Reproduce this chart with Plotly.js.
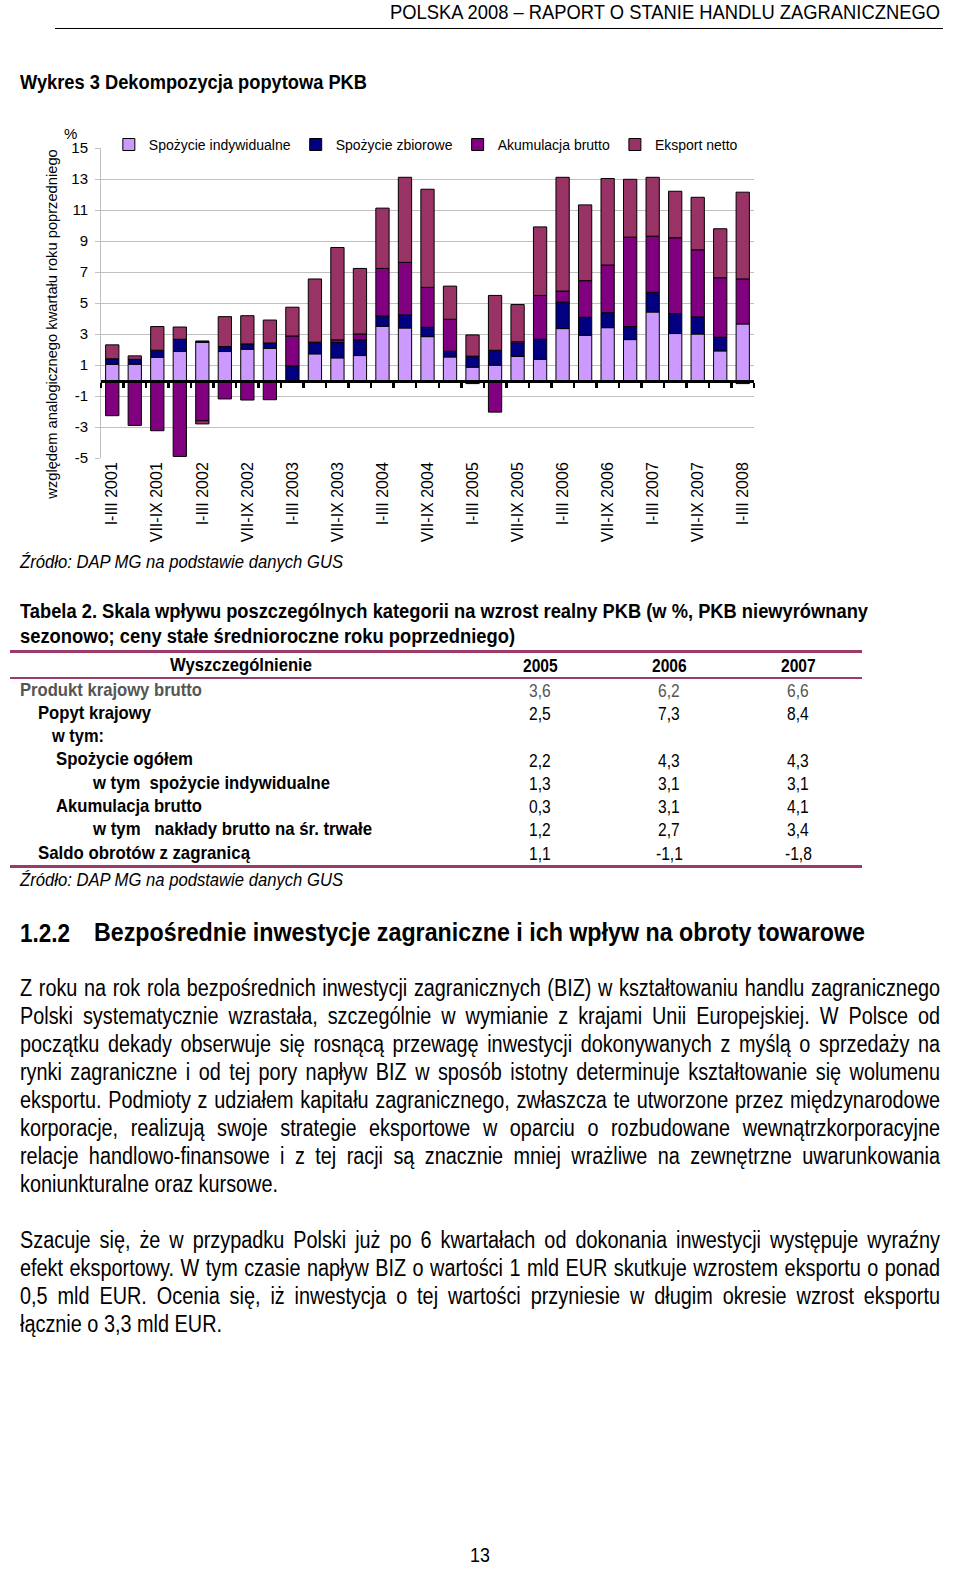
<!DOCTYPE html>
<html><head><meta charset="utf-8">
<script src="https://cdn.plot.ly/plotly-3.0.1.min.js"></script>
<style>
html,body{margin:0;padding:0;background:#fff;}
#page{position:relative;width:960px;height:1594px;overflow:hidden;font-family:"Liberation Sans",Arial,sans-serif;color:#000;}
.t{position:absolute;white-space:pre;line-height:1;transform-origin:0 0;}
.rule{position:absolute;}
#chart{position:absolute;left:0;top:100px;width:960px;height:460px;}
</style></head><body><div id="page"><div id="chart"></div></div>
<script>
// ---------------- DATA ----------------
const quarters = ["I-III 2001","IV-VI 2001","VII-IX 2001","X-XII 2001",
  "I-III 2002","IV-VI 2002","VII-IX 2002","X-XII 2002",
  "I-III 2003","IV-VI 2003","VII-IX 2003","X-XII 2003",
  "I-III 2004","IV-VI 2004","VII-IX 2004","X-XII 2004",
  "I-III 2005","IV-VI 2005","VII-IX 2005","X-XII 2005",
  "I-III 2006","IV-VI 2006","VII-IX 2006","X-XII 2006",
  "I-III 2007","IV-VI 2007","VII-IX 2007","X-XII 2007",
  "I-III 2008"];
const seriesNames = ["Spożycie indywidualne","Spożycie zbiorowe","Akumulacja brutto","Eksport netto"];
const spozycieIndywidualne = [1.05,1.05,1.5,1.87,2.47,1.87,2.02,2.08,0,1.72,1.46,1.61,3.5,3.39,2.83,1.52,0.86,0.99,1.55,1.37,3.35,2.92,3.41,2.64,4.42,3.03,3.0,1.91,3.65];
const spozycieZbiorowe = [0.35,0.32,0.45,0.79,0.08,0.32,0.34,0.34,0.94,0.75,0.99,1.01,0.66,0.84,0.6,0.37,0.71,0.96,0.85,1.29,1.71,1.16,0.97,0.84,1.27,1.28,1.1,0.88,-0.2];
const akumulacjaBrutto = [-2.27,-2.9,-3.24,-4.9,-2.6,-1.19,-1.26,-1.24,1.93,0,0.17,0.38,3.07,3.39,2.58,2.06,-0.2,-2.04,0.1,2.83,0.71,2.36,3.07,5.77,3.62,4.9,4.33,3.84,2.9];
const eksportNetto = [0.9,0.22,1.53,0.79,-0.2,1.93,1.82,1.48,1.86,4.08,5.96,4.23,3.89,5.49,6.33,2.14,1.37,3.54,2.4,4.42,7.34,4.89,5.58,3.73,3.8,3.0,3.39,3.16,5.6];
const yTickVals = [-5,-3,-1,1,3,5,7,9,11,13,15];
const yTickText = ["-5","-3","-1","1","3","5","7","9","11","13","15"];
const yTitle = "względem analogicznego kwartału roku poprzedniego";
const tableYears = ["2005","2006","2007"];
const tableRows = [
  ["Produkt krajowy brutto", "3,6","6,2","6,6"],
  ["Popyt krajowy", "2,5","7,3","8,4"],
  ["w tym:", "","",""],
  ["Spożycie ogółem", "2,2","4,3","4,3"],
  ["w tym  spożycie indywidualne", "1,3","3,1","3,1"],
  ["Akumulacja brutto", "0,3","3,1","4,1"],
  ["w tym   nakłady brutto na śr. trwałe", "1,2","2,7","3,4"],
  ["Saldo obrotów z zagranicą", "1,1","-1,1","-1,8"]
];
const para1 = [
 "Z roku na rok rola bezpośrednich inwestycji zagranicznych (BIZ) w kształtowaniu handlu zagranicznego",
 "Polski systematycznie wzrastała, szczególnie w wymianie z krajami Unii Europejskiej. W Polsce od",
 "początku dekady obserwuje się rosnącą przewagę inwestycji dokonywanych z myślą o sprzedaży na",
 "rynki zagraniczne i od tej pory napływ BIZ w sposób istotny determinuje kształtowanie się wolumenu",
 "eksportu. Podmioty z udziałem kapitału zagranicznego, zwłaszcza te utworzone przez międzynarodowe",
 "korporacje, realizują swoje strategie eksportowe w oparciu o rozbudowane wewnątrzkorporacyjne",
 "relacje handlowo-finansowe i z tej racji są znacznie mniej wrażliwe na zewnętrzne uwarunkowania",
 "koniunkturalne oraz kursowe."
];
const para2 = [
 "Szacuje się, że w przypadku Polski już po 6 kwartałach od dokonania inwestycji występuje wyraźny",
 "efekt eksportowy. W tym czasie napływ BIZ o wartości 1 mld EUR skutkuje wzrostem eksportu o ponad",
 "0,5 mld EUR. Ocenia się, iż inwestycja o tej wartości przyniesie w długim okresie wzrost eksportu",
 "łącznie o 3,3 mld EUR."
];

// ---------------- CHART ----------------
const colors = ["#CC99FF","#000080","#800080","#993366"];
const vals = [spozycieIndywidualne, spozycieZbiorowe, akumulacjaBrutto, eksportNetto];
const FONT = "Liberation Sans, Arial, sans-serif";
const traces = vals.map((v,i)=>({
  type:"bar", name:seriesNames[i], x:quarters, y:v,
  marker:{color:colors[i], line:{color:"#000", width:1}},
  hoverinfo:"skip"
}));
traces.push({type:"scatter", x:[], y:[], xaxis:"x2", showlegend:false, hoverinfo:"skip"});
const yMin=-5, yMax=15;
const boundaries = quarters.map((q,i)=>i-0.5).concat([quarters.length-0.5]);
const layout = {
  width:960, height:460,
  margin:{l:101, r:206, t:48, b:102},
  paper_bgcolor:"#fff", plot_bgcolor:"#fff",
  font:{family:FONT, size:14, color:"#000"},
  barmode:"relative", bargap:0.41,
  showlegend:true,
  legend:{orientation:"h", x:0.012, xanchor:"left", y:1.01, yanchor:"middle",
          bgcolor:"#fff", font:{family:FONT,size:14,color:"#000"}, traceorder:"normal"},
  xaxis:{type:"category", range:[-0.5, quarters.length-0.5],
         tickvals:quarters.filter((q,i)=>i%2===0), tickangle:-90,
         tickfont:{family:FONT,size:16,color:"#000"},
         showgrid:false, showline:false, ticks:"", zeroline:false, fixedrange:true},
  xaxis2:{overlaying:"x", anchor:"free", position:(0-yMin)/(yMax-yMin), type:"linear",
          range:[-0.5, quarters.length-0.5], tickvals:boundaries, ticks:"outside",
          ticklen:5, tickwidth:2.5, tickcolor:"#000", showline:true, linecolor:"#000",
          linewidth:3, showticklabels:false, showgrid:false, zeroline:false, side:"bottom"},
  yaxis:{range:[yMin,yMax], tickvals:yTickVals, ticktext:yTickText, gridcolor:"#c0c0c0", gridwidth:1,
         showline:true, linecolor:"#c0c0c0", linewidth:1, ticks:"outside", ticklen:5,
         tickcolor:"#c0c0c0", zeroline:false, tickfont:{family:FONT,size:15,color:"#000"},
         ticklabelstandoff:4},
  annotations:[
    {text:"%", xref:"paper", yref:"paper", x:-0.047, y:1.048, showarrow:false,
     font:{family:FONT,size:15,color:"#000"}, xanchor:"center", yanchor:"middle"},
    {text:yTitle, xref:"paper", yref:"paper", x:-0.075, y:0.43, textangle:-90, showarrow:false,
     font:{family:FONT,size:14.7,color:"#000"}, xanchor:"center", yanchor:"middle"}
  ]
};
Plotly.newPlot("chart", traces, layout, {displayModeBar:false, staticPlot:true});

// ---------------- PAGE TEXT ----------------
const page = document.getElementById("page");
function txt(s, o){
  const d=document.createElement("div"); d.className="t"; d.textContent=s;
  d.style.fontSize=o.fs+"px";
  if(o.b) d.style.fontWeight="bold";
  if(o.i) d.style.fontStyle="italic";
  if(o.c) d.style.color=o.c;
  page.appendChild(d);
  const w=d.getBoundingClientRect().width;
  let sc=o.sc||0.82;
  if(o.r!==undefined) sc=(o.r-o.x)/w;
  let left=o.x;
  if(o.align==="center") left=o.x-w*sc/2;
  if(o.align==="right") left=o.x-w*sc;
  d.style.left=left+"px";
  d.style.top=(o.cy-(o.vc||0.55)*o.fs)+"px";
  d.style.transform="scaleX("+sc+")";
  d.dataset.sc=sc;
  return d;
}
function rule(x,y,w,h,c){
  const d=document.createElement("div"); d.className="rule";
  d.style.left=x+"px"; d.style.top=y+"px"; d.style.width=w+"px"; d.style.height=h+"px"; d.style.background=c;
  page.appendChild(d);
}
function paragraph(lines, x, r, cy0, lh, fs, lastRight){
  const probe=txt(lines[lines.length-1],{x:x,cy:cy0+lh*(lines.length-1),fs:fs,r:lastRight});
  const s0=parseFloat(probe.dataset.sc);
  lines.slice(0,-1).forEach((ln,k)=>{
    const d=document.createElement("div"); d.className="t"; d.textContent=ln;
    d.style.fontSize=fs+"px"; page.appendChild(d);
    const w=d.getBoundingClientRect().width;
    const target=(r-x)/s0;
    const nsp=(ln.match(/ /g)||[]).length;
    d.style.wordSpacing=((target-w)/nsp)+"px";
    d.style.left=x+"px"; d.style.top=(cy0+lh*k-0.55*fs)+"px";
    d.style.transform="scaleX("+s0+")";
  });
}
function buildPage(){
  txt("POLSKA 2008 – RAPORT O STANIE HANDLU ZAGRANICZNEGO",{x:390,r:940,cy:11,fs:21,vc:0.49});
  rule(55,28,888,1,"#000");
  txt("Wykres 3 Dekompozycja popytowa PKB",{x:20,r:367,cy:83,fs:21,b:true});
  txt("Źródło: DAP MG na podstawie danych GUS",{x:20,r:343,cy:563,fs:18,i:true});
  txt("Tabela 2. Skala wpływu poszczególnych kategorii na wzrost realny PKB (w %, PKB niewyrównany",{x:20,r:868,cy:612,fs:20,b:true});
  txt("sezonowo; ceny stałe średnioroczne roku poprzedniego)",{x:20,r:515,cy:637,fs:20,b:true});
  const RC="#9b3b6b";
  rule(10,650,852,3,RC); rule(10,677,852,2,RC); rule(10,865,852,3,RC);
  txt("Wyszczególnienie",{x:170,r:312,cy:665,fs:19,b:true});
  const colX=[540,669,798];
  tableYears.forEach((y,i)=>txt(y,{x:colX[i],cy:665,fs:19,b:true,align:"center",sc:0.82,vc:0.49}));
  const rowX=[20,38,52,56,93,56,93,38];
  const rowR=[202,151,104,193,330,202,372,250];
  tableRows.forEach((row,k)=>{
    const cy=690+k*23.3;
    const col=k===0?"#555":"#000";
    txt(row[0],{x:rowX[k],r:rowR[k],cy:cy,fs:19,b:true,c:col});
    for(let j=1;j<4;j++) if(row[j]) txt(row[j],{x:colX[j-1],cy:cy,fs:19,align:"center",sc:0.82,c:col,vc:0.49});
  });
  txt("Źródło: DAP MG na podstawie danych GUS",{x:20,r:343,cy:880,fs:19,i:true});
  txt("1.2.2",{x:20,r:70,cy:933,fs:26,b:true,vc:0.49});
  txt("Bezpośrednie inwestycje zagraniczne i ich wpływ na obroty towarowe",{x:94,r:865,cy:933,fs:26,b:true});
  paragraph(para1,20,940,990,28,23,278);
  paragraph(para2,20,940,1242,28,23,222);
  txt("13",{x:480,cy:1554,fs:21,align:"center",sc:0.85,vc:0.49});
}
if(document.fonts&&document.fonts.ready){document.fonts.ready.then(buildPage);}else{buildPage();}
</script></body></html>
